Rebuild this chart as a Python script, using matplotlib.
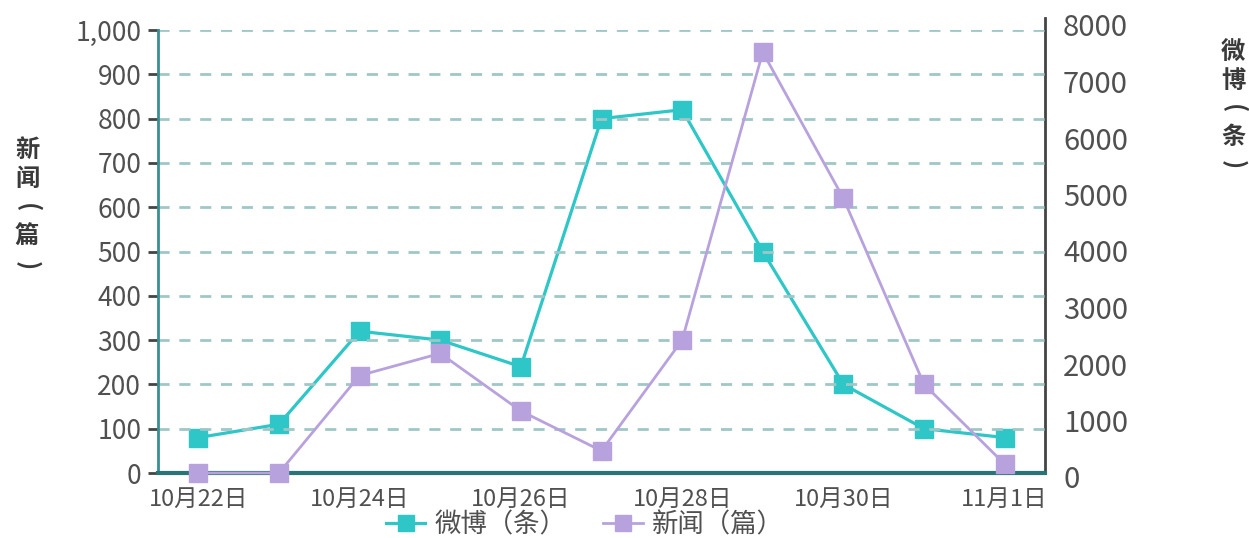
import matplotlib
matplotlib.use("Agg")
import matplotlib.pyplot as plt

plt.rcParams['font.family'] = ['Noto Sans CJK SC', 'DejaVu Sans']

dates = ['10月22日', '10月23日', '10月24日', '10月25日', '10月26日', '10月27日',
         '10月28日', '10月29日', '10月30日', '10月31日', '11月1日']
weibo = [640, 880, 2560, 2400, 1920, 6400, 6560, 4000, 1600, 800, 640]   # 条
news = [0, 0, 220, 270, 140, 50, 300, 950, 620, 200, 20]                 # 篇
left_ticks = [0, 100, 200, 300, 400, 500, 600, 700, 800, 900, 1000]
right_ticks = [0, 1000, 2000, 3000, 4000, 5000, 6000, 7000, 8000]
left_title = ['新', '闻', '(', '篇', ')']
right_title = ['微', '博', '(', '条', ')']

teal = '#2ec6c6'
purple = '#b8a2de'
W, H = 1249, 538

fig = plt.figure(figsize=(W / 100, H / 100), dpi=100)
ax = fig.add_axes([158 / W, 1 - 473 / H, (1045 - 158) / W, (473 - 30) / H])
x = list(range(len(dates)))

ax.set_xlim(-0.5, len(dates) - 0.5)
ax.set_ylim(0, 1000)
ax.set_yticks(left_ticks)
ax.set_yticklabels(['{:,}'.format(v) for v in left_ticks])
ax.tick_params(axis='y', length=7, width=2, color='#444444', pad=5,
               labelsize=19, labelcolor='#505050')
ax.set_xticks(x[::2])
ax.set_xticklabels(dates[::2])
ax.tick_params(axis='x', length=0, pad=11, labelsize=17, labelcolor='#505050')
for v in left_ticks[1:]:
    ax.axhline(v, color='#9fc7c7', lw=2, ls=(0, (4, 3.5)), zorder=1)
ax.spines['top'].set_visible(False)
ax.spines['right'].set_visible(False)
ax.spines['left'].set_color('#3a8e93')
ax.spines['left'].set_linewidth(2)
ax.spines['bottom'].set_color('#2a7377')
ax.spines['bottom'].set_linewidth(3)

# 微博 on twin axis (aligned, 0..8000)
ax2 = ax.twinx()
ax2.set_ylim(0, 8000)
ax2.set_yticks([])
for s in ['top', 'left', 'bottom']:
    ax2.spines[s].set_visible(False)
ax2.spines['right'].set_color('#444444')
ax2.spines['right'].set_linewidth(2)
ax2.spines['right'].set_bounds(0, 8000 * (473 - 18) / (473 - 30))

l1, = ax2.plot(x, weibo, color=teal, lw=2.3, marker='s', ms=13, mec=teal,
               clip_on=False, zorder=3, label='微博（条）')
l2, = ax.plot(x, news, color=purple, lw=2, marker='s', ms=13, mec=purple,
              clip_on=False, zorder=4, label='新闻（篇）')
ax.set_zorder(ax2.get_zorder() + 1)
ax.patch.set_visible(False)

# right labels axis (slightly offset scale as in reference)
ax3 = fig.add_axes([158 / W, 1 - 477 / H, (1045 - 158) / W, (477 - 25) / H])
ax3.patch.set_visible(False)
for s in ax3.spines.values():
    s.set_visible(False)
ax3.set_xticks([])
ax3.set_ylim(0, 8000)
ax3.yaxis.tick_right()
ax3.set_yticks(right_ticks)
ax3.set_yticklabels([str(v) for v in right_ticks])
ax3.tick_params(axis='y', length=0, pad=13, labelsize=21, labelcolor='#505050')

# stacked vertical axis titles (brackets turned to vertical form)
for i, ch in enumerate(left_title):
    rot = -90 if ch in '()' else 0
    fig.text(27 / W, 1 - (150 + 29 * i) / H, ch, ha='center', va='center',
             rotation=rot, rotation_mode='anchor', fontsize=17.5,
             color='#3a3a3a', fontweight='bold')
for i, ch in enumerate(right_title):
    rot = -90 if ch in '()' else 0
    fig.text(1233 / W, 1 - (53 + 28 * i) / H, ch, ha='center', va='center',
             rotation=rot, rotation_mode='anchor', fontsize=17.5,
             color='#3a3a3a', fontweight='bold')

fig.legend(handles=[l1, l2], loc='center', bbox_to_anchor=(585 / W, 1 - 525 / H),
           ncol=2, frameon=False, fontsize=19, labelcolor='#505050',
           handlelength=1.5, columnspacing=1.4, handletextpad=0.35, markerscale=0.9)

fig.savefig('out.png', dpi=100)
